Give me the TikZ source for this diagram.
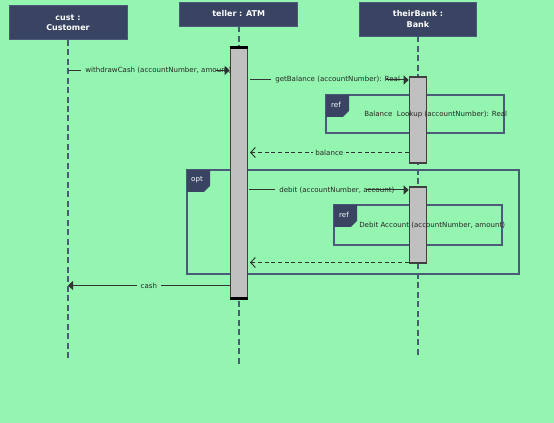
\documentclass[tikz,border=0pt]{standalone}
\usepackage{fontspec}
\setmainfont{DejaVu Sans}
\usepackage{xcolor}
\usepackage{tikz}
\usetikzlibrary{arrows.meta}
\definecolor{bggreen}{HTML}{94F5B0}
\definecolor{headblue}{HTML}{384462}
\definecolor{lifegray}{HTML}{4B5A78}
\definecolor{barfill}{HTML}{C0C0C0}
\newcommand*{\fragtag}[4]{\fill[headblue](#1,#2)--++(23,0)--++(0,16)--++(-6,6)--++(-17,0)--cycle;\node[tagtext](#4)at(#1+10,#2+10){#3};}

\begin{document}
\begin{tikzpicture}[x=0.75pt,y=-0.75pt,
head/.style={draw=lifegray,fill=headblue,text=white,align=center,font=\fontsize{6}{7.6}\selectfont\bfseries,inner sep=0pt},
life/.style={lifegray,line width=1.4pt,dash pattern=on 4.5pt off 2.6pt},
bar/.style={draw=black!75,fill=barfill,line width=0.9pt,minimum width=12.75pt,inner sep=0pt},
frag/.style={draw=lifegray,line width=1.1pt,inner sep=0pt},
msg/.style={black!80,line width=0.75pt},
call/.style={msg,-{Triangle[length=3.75pt,width=6.75pt]}},
ret/.style={msg,dash pattern=on 3pt off 2pt,-{Straight Barb[length=3.5pt,width=7.5pt]}},
lbl/.style={font=\fontsize{5.3}{6.3}\selectfont,text=black!85,inner sep=0pt},
tagtext/.style={font=\fontsize{5.3}{6.3}\selectfont,text=white,inner sep=0pt}]
\fill[bggreen](0,0)rectangle(554,423);
\useasboundingbox(0,0)rectangle(554,423);

\node[frag,minimum width=249pt,minimum height=78pt](optframe)at(353,222){};
\node[frag,minimum width=133.5pt,minimum height=28.5pt](lookupframe)at(415,114){};
\node[frag,minimum width=126pt,minimum height=30pt](debitframe)at(418,225){};
\fragtag{187}{170}{opt}{opttag}
\fragtag{326}{95}{ref}{lookuptag}
\fragtag{334}{205}{ref}{debittag}

\node[head,minimum width=88.5pt,minimum height=25.5pt](cust)at(68,22.5){cust :\\Customer};
\node[head,minimum width=88.5pt,minimum height=18pt](teller)at(238.75,14){teller : ATM};
\node[head,minimum width=87.75pt,minimum height=25.5pt](bank)at(418,19){theirBank :\\Bank};
\coordinate(custend)at(68,359);
\coordinate(tellerend)at(238.75,366);
\coordinate(bankend)at(418,355);
\draw[life](cust.south)--(custend);
\draw[life](teller.south)--(tellerend);
\draw[life](bank.south)--(bankend);

\node[bar,minimum height=187.5pt](tbar)at(238.75,173){};
\node[bar,minimum height=64.5pt](bbarA)at(417.75,120){};
\node[bar,minimum height=57pt](bbarB)at(417.75,225){};
\draw[line width=2.25pt](tbar.north west)--(tbar.north east);
\draw[line width=2.25pt](tbar.south west)--(tbar.south east);
\node[lbl,anchor=west](lookuptext)at(364,115){Balance~ Lookup (accountNumber): Real};
\node[lbl,anchor=west](debittext)at(359,225){Debit Account (accountNumber, amount)};

\coordinate(wc)at(cust.south|-0,70.5);
\draw[call](wc)--(tbar.west|-wc);
\node[lbl,fill=bggreen,anchor=west,inner xsep=3pt](wctext)at(81,70.5){\makebox[95pt][l]{withdrawCash (accountNumber, amount)}};
\coordinate(gb)at(250,80);
\draw[call](gb)--(bbarA.west|-gb);
\node[lbl,fill=bggreen,anchor=west,inner xsep=3pt](gbtext)at(271,80){\makebox[80pt][l]{getBalance (accountNumber): Real}};
\coordinate(bl)at(250,152.5);
\draw[ret](bbarA.west|-bl)--(bl)node[midway,lbl,fill=bggreen,inner xsep=2pt](bltext){balance};
\coordinate(db)at(249,190);
\draw[call](db)--(bbarB.west|-db);
\node[lbl,fill=bggreen,anchor=west,inner xsep=3pt](dbtext)at(275,190){\makebox[62pt][l]{debit (accountNumber, account)}};
\coordinate(dr)at(250,262.5);
\draw[ret](bbarB.west|-dr)--(dr);
\coordinate(cs)at(cust.south|-0,285.5);
\draw[call](tbar.west|-cs)--(cs)node[midway,lbl,fill=bggreen,inner xsep=3pt](cstext){cash};
\end{tikzpicture}
\end{document}
